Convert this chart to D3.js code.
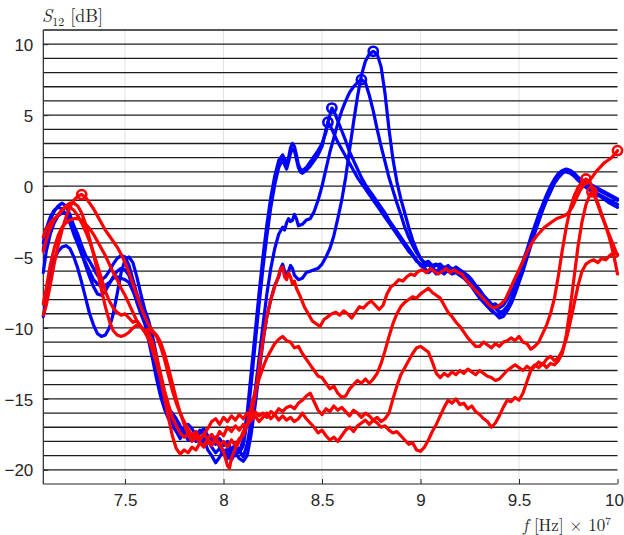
<!DOCTYPE html>
<html>
<head>
<meta charset="utf-8">
<script src="https://cdn.jsdelivr.net/npm/d3@7"></script>
<style>
  html, body { margin: 0; padding: 0; background: #fff; }
  svg { display: block; }
  .tick-label { font-family: "Liberation Sans", Arial, Helvetica, sans-serif; font-size: 17px; fill: #262626; }
  .latex { font-family: "Latin Modern Roman", "Liberation Serif", "DejaVu Serif", serif; fill: #262626; }
</style>
</head>
<body>
<svg id="chart" width="624" height="535"></svg>
<script>
// Frequency in units of 1e7 Hz, S12 in dB.
const xTicks = [7.5, 8, 8.5, 9, 9.5, 10];
const yTicks = [-20, -15, -10, -5, 0, 5, 10];

// Blue sweeps
const blue1 = [[7.085,-4.5],[7.10,-3.4],[7.12,-2.4],[7.14,-1.8],[7.16,-1.4],[7.18,-1.2],[7.20,-1.4],[7.22,-2.0],[7.24,-2.8],[7.26,-3.4],[7.28,-4.2],[7.30,-4.9],[7.32,-5.3],[7.34,-5.8],[7.36,-6.3],[7.38,-6.6],[7.40,-6.4],[7.42,-6.0],[7.44,-5.5],[7.46,-5.1],[7.48,-4.9],[7.50,-5.0],[7.52,-5.6],[7.54,-6.6],[7.56,-7.6],[7.58,-8.4],[7.60,-9.0],[7.62,-10.2],[7.64,-11.6],[7.66,-12.9],[7.68,-14.2],[7.70,-15.4],[7.72,-16.3],[7.74,-16.6],[7.76,-17.2],[7.78,-17.0],[7.80,-17.6],[7.82,-17.3],[7.84,-17.9],[7.86,-17.5],[7.88,-18.2],[7.90,-17.8],[7.92,-18.6],[7.94,-19.0],[7.96,-19.5],[7.98,-19.1],[8.00,-18.6],[8.02,-18.9],[8.04,-19.3],[8.06,-18.8],[8.08,-19.2],[8.10,-19.4],[8.12,-19.0],[8.14,-17.5],[8.16,-15.5],[8.18,-13.2],[8.20,-11.0],[8.22,-9.2],[8.24,-8.0],[8.26,-7.0],[8.28,-6.4],[8.29,-5.8],[8.30,-5.5],[8.31,-6.0],[8.32,-6.4],[8.33,-6.0],[8.34,-5.6],[8.35,-5.8],[8.36,-6.3],[8.38,-6.6],[8.40,-6.5],[8.42,-6.1],[8.44,-6.0],[8.46,-5.9],[8.48,-5.8],[8.50,-5.5],[8.52,-5.0],[8.54,-4.4],[8.56,-3.5],[8.58,-2.3],[8.60,-1.0],[8.62,0.6],[8.64,2.6],[8.66,4.5],[8.68,6.3],[8.70,7.8],[8.72,8.8],[8.74,9.3],[8.76,9.5],[8.78,9.3],[8.80,8.4],[8.82,6.5],[8.84,4.0],[8.86,1.9],[8.88,0.3],[8.90,-0.9],[8.92,-1.9],[8.94,-2.9],[8.96,-3.8],[8.98,-4.5],[9.00,-5.1],[9.02,-5.4],[9.04,-5.3],[9.06,-5.6],[9.08,-5.5],[9.10,-5.8],[9.12,-5.7],[9.14,-5.9],[9.16,-5.8],[9.18,-5.9],[9.20,-6.0],[9.22,-6.2],[9.24,-6.5],[9.26,-6.8],[9.28,-7.2],[9.30,-7.6],[9.32,-8.0],[9.34,-8.3],[9.36,-8.7],[9.38,-9.0],[9.40,-9.3],[9.42,-9.2],[9.44,-8.8],[9.46,-8.3],[9.48,-7.6],[9.50,-6.8],[9.52,-6.0],[9.54,-5.1],[9.56,-4.2],[9.58,-3.3],[9.60,-2.5],[9.62,-1.7],[9.64,-1.0],[9.66,-0.4],[9.68,0.2],[9.70,0.6],[9.72,0.9],[9.74,1.1],[9.76,1.1],[9.78,0.9],[9.80,0.6],[9.84,0.3],[9.88,0.0],[9.92,-0.3],[9.96,-0.6],[10.0,-0.9]];

const blue2 = [[7.085,-6.1],[7.10,-4.6],[7.12,-3.4],[7.14,-2.6],[7.16,-2.1],[7.18,-1.9],[7.20,-1.9],[7.22,-2.3],[7.24,-3.0],[7.26,-3.9],[7.28,-4.8],[7.30,-5.6],[7.32,-6.4],[7.34,-7.1],[7.36,-7.6],[7.38,-7.7],[7.40,-7.4],[7.42,-6.9],[7.44,-6.4],[7.46,-6.0],[7.48,-5.8],[7.50,-5.9],[7.52,-6.3],[7.54,-7.2],[7.56,-8.2],[7.58,-9.0],[7.60,-9.7],[7.62,-10.9],[7.64,-12.2],[7.66,-13.6],[7.68,-14.8],[7.70,-15.7],[7.72,-16.4],[7.74,-16.9],[7.76,-17.3],[7.78,-17.8],[7.80,-17.4],[7.82,-17.9],[7.84,-17.5],[7.86,-18.0],[7.88,-17.4],[7.90,-17.1],[7.92,-17.6],[7.94,-18.1],[7.96,-17.7],[7.98,-18.4],[8.00,-18.9],[8.02,-19.2],[8.04,-18.7],[8.06,-19.0],[8.08,-18.6],[8.10,-19.1],[8.12,-18.2],[8.14,-16.6],[8.16,-14.5],[8.18,-12.2],[8.20,-9.8],[8.22,-7.6],[8.24,-5.8],[8.26,-4.4],[8.28,-3.4],[8.30,-2.9],[8.31,-3.1],[8.32,-2.6],[8.33,-2.3],[8.34,-2.5],[8.35,-2.4],[8.36,-2.0],[8.37,-2.3],[8.38,-2.8],[8.40,-2.7],[8.42,-2.4],[8.44,-2.3],[8.46,-1.8],[8.48,-1.0],[8.50,0.0],[8.52,1.2],[8.54,2.4],[8.56,3.4],[8.58,4.4],[8.60,5.3],[8.62,6.0],[8.64,6.6],[8.66,7.0],[8.68,7.3],[8.70,7.5],[8.72,7.3],[8.74,6.4],[8.76,5.3],[8.78,4.0],[8.80,2.8],[8.82,1.7],[8.84,0.6],[8.86,-0.3],[8.88,-1.2],[8.90,-2.0],[8.92,-2.9],[8.94,-3.6],[8.96,-4.2],[8.98,-4.7],[9.00,-5.1],[9.02,-5.5],[9.04,-5.4],[9.06,-5.7],[9.08,-5.6],[9.10,-5.5],[9.12,-5.8],[9.14,-5.6],[9.16,-5.9],[9.18,-5.7],[9.20,-5.9],[9.22,-6.1],[9.24,-6.3],[9.26,-6.6],[9.28,-7.0],[9.30,-7.3],[9.32,-7.7],[9.34,-8.0],[9.36,-8.3],[9.38,-8.6],[9.40,-8.9],[9.42,-8.8],[9.44,-8.5],[9.46,-8.0],[9.48,-7.3],[9.50,-6.5],[9.52,-5.7],[9.54,-4.8],[9.56,-3.9],[9.58,-3.1],[9.60,-2.3],[9.62,-1.5],[9.64,-0.8],[9.66,-0.2],[9.68,0.4],[9.70,0.8],[9.72,1.0],[9.74,1.1],[9.76,1.0],[9.78,0.8],[9.80,0.5],[9.84,0.0],[9.88,-0.4],[9.92,-0.7],[9.96,-1.0],[10.0,-1.3]];

const blue3 = [[7.085,-9.2],[7.10,-8.0],[7.12,-6.4],[7.14,-5.2],[7.16,-4.6],[7.18,-4.3],[7.20,-4.2],[7.22,-4.4],[7.24,-5.0],[7.26,-5.8],[7.28,-6.8],[7.30,-7.9],[7.32,-9.0],[7.34,-9.8],[7.36,-10.4],[7.38,-10.6],[7.40,-10.5],[7.42,-10.0],[7.44,-9.0],[7.46,-7.6],[7.48,-6.1],[7.50,-5.2],[7.52,-5.0],[7.54,-5.4],[7.56,-6.4],[7.58,-7.6],[7.60,-8.7],[7.62,-9.5],[7.64,-10.6],[7.66,-12.0],[7.68,-13.5],[7.70,-14.9],[7.72,-15.7],[7.74,-16.0],[7.76,-16.4],[7.78,-16.9],[7.80,-17.3],[7.82,-16.8],[7.84,-17.1],[7.86,-17.6],[7.88,-17.2],[7.90,-17.5],[7.92,-18.0],[7.94,-17.6],[7.96,-18.2],[7.98,-17.8],[8.00,-18.3],[8.02,-18.0],[8.04,-18.6],[8.06,-18.2],[8.08,-18.7],[8.10,-17.9],[8.12,-16.0],[8.14,-13.2],[8.16,-10.4],[8.18,-7.6],[8.20,-5.0],[8.22,-2.7],[8.24,-0.8],[8.26,0.7],[8.28,1.8],[8.30,2.2],[8.31,1.9],[8.32,1.5],[8.33,2.0],[8.34,2.7],[8.35,3.0],[8.36,2.8],[8.37,2.2],[8.38,1.5],[8.39,1.2],[8.40,1.1],[8.42,1.3],[8.44,1.7],[8.46,2.1],[8.48,2.5],[8.50,3.0],[8.52,3.8],[8.53,4.5],[8.54,5.0],[8.55,5.5],[8.56,5.3],[8.58,4.6],[8.60,3.9],[8.62,3.2],[8.64,2.4],[8.66,1.8],[8.68,1.2],[8.70,0.6],[8.72,0.1],[8.74,-0.3],[8.76,-0.7],[8.78,-1.1],[8.80,-1.5],[8.82,-1.9],[8.84,-2.4],[8.86,-2.8],[8.88,-3.2],[8.90,-3.6],[8.92,-4.0],[8.94,-4.4],[8.96,-4.8],[8.98,-5.2],[9.00,-5.6],[9.02,-5.8],[9.04,-6.1],[9.06,-5.9],[9.08,-6.2],[9.10,-6.0],[9.12,-6.2],[9.14,-5.9],[9.16,-6.1],[9.18,-6.0],[9.20,-6.2],[9.22,-6.4],[9.24,-6.7],[9.26,-7.0],[9.28,-7.4],[9.30,-7.7],[9.32,-8.0],[9.34,-8.2],[9.36,-8.4],[9.38,-8.3],[9.40,-8.6],[9.42,-8.4],[9.44,-8.0],[9.46,-7.5],[9.48,-6.9],[9.50,-6.1],[9.52,-5.3],[9.54,-4.5],[9.56,-3.6],[9.58,-2.8],[9.60,-2.0],[9.62,-1.3],[9.64,-0.6],[9.66,0.0],[9.68,0.5],[9.70,0.9],[9.72,1.1],[9.74,1.2],[9.76,1.1],[9.78,0.9],[9.80,0.6],[9.84,0.2],[9.88,-0.1],[9.92,-0.4],[9.96,-0.7],[10.0,-1.0]];

const blue4 = [[7.085,-4.0],[7.10,-3.0],[7.12,-2.2],[7.14,-1.7],[7.16,-1.5],[7.18,-1.6],[7.20,-2.0],[7.22,-2.6],[7.24,-3.4],[7.26,-4.1],[7.28,-4.8],[7.30,-5.4],[7.32,-6.0],[7.34,-6.6],[7.36,-6.9],[7.38,-7.1],[7.40,-7.0],[7.42,-6.8],[7.44,-6.5],[7.46,-6.4],[7.48,-6.5],[7.50,-6.6],[7.52,-6.8],[7.54,-7.4],[7.56,-8.1],[7.58,-8.8],[7.60,-9.4],[7.62,-10.5],[7.64,-11.9],[7.66,-13.3],[7.68,-14.6],[7.70,-15.5],[7.72,-16.1],[7.74,-16.5],[7.76,-16.8],[7.78,-17.4],[7.80,-17.0],[7.82,-17.5],[7.84,-17.9],[7.86,-17.4],[7.88,-17.8],[7.90,-18.3],[7.92,-17.9],[7.94,-18.4],[7.96,-18.8],[7.98,-18.5],[8.00,-18.9],[8.02,-18.5],[8.04,-18.9],[8.06,-18.4],[8.08,-18.8],[8.10,-18.3],[8.12,-16.6],[8.14,-14.0],[8.16,-11.2],[8.18,-8.4],[8.20,-5.8],[8.22,-3.5],[8.24,-1.5],[8.26,0.1],[8.28,1.3],[8.30,1.9],[8.31,1.5],[8.32,1.2],[8.33,1.7],[8.34,2.3],[8.35,2.6],[8.36,2.5],[8.37,1.9],[8.38,1.3],[8.39,1.0],[8.40,0.9],[8.42,1.1],[8.44,1.4],[8.46,1.8],[8.48,2.2],[8.50,2.8],[8.51,3.4],[8.52,4.0],[8.53,4.5],[8.54,4.3],[8.56,3.7],[8.58,3.1],[8.60,2.6],[8.62,2.1],[8.64,1.6],[8.66,1.1],[8.68,0.6],[8.70,0.2],[8.72,-0.2],[8.74,-0.6],[8.76,-1.0],[8.78,-1.4],[8.80,-1.8],[8.82,-2.2],[8.84,-2.6],[8.86,-3.0],[8.88,-3.4],[8.90,-3.8],[8.92,-4.2],[8.94,-4.6],[8.96,-4.9],[8.98,-5.3],[9.00,-5.5],[9.02,-5.7],[9.04,-5.5],[9.06,-5.8],[9.08,-6.0],[9.10,-5.8],[9.12,-6.1],[9.14,-6.0],[9.16,-6.2],[9.18,-6.1],[9.20,-6.3],[9.22,-6.5],[9.24,-6.8],[9.26,-7.1],[9.28,-7.5],[9.30,-7.9],[9.32,-8.2],[9.34,-8.5],[9.36,-8.8],[9.38,-9.0],[9.40,-9.1],[9.42,-8.9],[9.44,-8.6],[9.46,-8.1],[9.48,-7.4],[9.50,-6.6],[9.52,-5.8],[9.54,-4.9],[9.56,-4.0],[9.58,-3.2],[9.60,-2.4],[9.62,-1.6],[9.64,-0.9],[9.66,-0.3],[9.68,0.3],[9.70,0.7],[9.72,1.0],[9.74,1.0],[9.76,0.9],[9.78,0.7],[9.80,0.4],[9.84,-0.1],[9.88,-0.5],[9.92,-0.8],[9.96,-1.2],[10.0,-1.5]];

// Red sweeps
const red1 = [[7.085,-4.6],[7.10,-3.8],[7.12,-3.0],[7.14,-2.4],[7.16,-2.0],[7.18,-1.7],[7.20,-1.5],[7.22,-1.5],[7.24,-1.7],[7.26,-2.1],[7.28,-2.6],[7.30,-3.2],[7.32,-3.9],[7.34,-4.7],[7.36,-5.6],[7.38,-6.5],[7.40,-7.4],[7.42,-8.1],[7.44,-8.6],[7.46,-8.9],[7.48,-9.1],[7.50,-9.0],[7.52,-9.3],[7.54,-9.6],[7.56,-9.5],[7.58,-9.9],[7.60,-10.3],[7.62,-10.8],[7.64,-11.6],[7.66,-12.5],[7.68,-13.6],[7.70,-14.9],[7.72,-16.3],[7.74,-17.6],[7.76,-18.5],[7.78,-18.9],[7.80,-18.6],[7.82,-18.8],[7.84,-18.4],[7.86,-18.6],[7.88,-18.1],[7.90,-18.3],[7.92,-17.8],[7.94,-17.5],[7.96,-17.9],[7.98,-17.3],[8.00,-17.6],[8.02,-17.0],[8.04,-17.3],[8.06,-16.9],[8.08,-17.2],[8.10,-16.8],[8.12,-16.9],[8.14,-16.2],[8.16,-14.8],[8.18,-12.9],[8.20,-10.9],[8.22,-9.2],[8.24,-8.0],[8.26,-7.1],[8.28,-6.3],[8.29,-5.8],[8.30,-5.7],[8.31,-6.4],[8.32,-6.6],[8.33,-6.1],[8.34,-6.4],[8.35,-6.9],[8.36,-6.7],[8.37,-7.2],[8.39,-7.8],[8.41,-8.5],[8.43,-9.0],[8.45,-9.5],[8.47,-9.7],[8.49,-9.9],[8.51,-9.4],[8.53,-9.2],[8.55,-9.0],[8.57,-8.9],[8.59,-9.1],[8.61,-8.8],[8.63,-9.0],[8.65,-9.3],[8.67,-8.9],[8.69,-8.5],[8.71,-8.6],[8.73,-8.3],[8.75,-8.1],[8.77,-8.4],[8.79,-8.7],[8.81,-8.4],[8.83,-7.6],[8.85,-7.1],[8.87,-6.9],[8.89,-6.6],[8.91,-6.7],[8.93,-6.4],[8.95,-6.2],[8.97,-6.3],[8.99,-6.0],[9.01,-5.9],[9.03,-6.1],[9.05,-5.8],[9.07,-6.0],[9.09,-6.2],[9.11,-6.0],[9.13,-5.8],[9.15,-6.1],[9.17,-5.9],[9.19,-6.1],[9.21,-6.2],[9.23,-6.6],[9.25,-6.9],[9.27,-7.2],[9.29,-7.5],[9.31,-7.8],[9.33,-8.1],[9.35,-8.4],[9.37,-8.6],[9.39,-8.5],[9.41,-8.3],[9.43,-8.0],[9.45,-7.4],[9.47,-6.8],[9.49,-6.2],[9.51,-5.6],[9.53,-5.0],[9.55,-4.4],[9.57,-3.9],[9.59,-3.5],[9.61,-3.2],[9.63,-2.9],[9.65,-2.7],[9.67,-2.5],[9.69,-2.3],[9.71,-2.2],[9.73,-2.1],[9.75,-1.9],[9.77,-1.5],[9.79,-0.9],[9.81,-0.3],[9.83,0.1],[9.85,0.3],[9.87,0.6],[9.89,1.0],[9.91,1.3],[9.93,1.6],[9.95,1.8],[9.97,2.0],[9.99,2.3],[10.0,2.5]];

const red2 = [[7.085,-3.6],[7.10,-3.0],[7.12,-2.6],[7.14,-2.3],[7.16,-2.1],[7.18,-1.7],[7.20,-1.4],[7.22,-1.2],[7.24,-1.2],[7.26,-1.4],[7.28,-1.9],[7.30,-2.7],[7.32,-3.7],[7.34,-4.8],[7.36,-6.0],[7.38,-7.3],[7.40,-8.5],[7.42,-9.5],[7.44,-10.2],[7.46,-10.5],[7.48,-10.6],[7.50,-10.5],[7.52,-10.3],[7.54,-10.0],[7.56,-9.8],[7.58,-9.9],[7.60,-10.2],[7.62,-10.4],[7.64,-11.0],[7.66,-12.0],[7.68,-13.2],[7.70,-14.4],[7.72,-15.4],[7.74,-16.3],[7.76,-16.9],[7.78,-17.4],[7.80,-17.7],[7.82,-17.5],[7.84,-17.9],[7.86,-17.6],[7.88,-17.9],[7.90,-17.5],[7.92,-17.8],[7.94,-18.2],[7.96,-17.9],[7.98,-18.3],[8.00,-18.0],[8.02,-18.4],[8.04,-17.9],[8.06,-18.3],[8.08,-17.8],[8.10,-17.6],[8.12,-16.8],[8.14,-15.6],[8.16,-14.5],[8.18,-13.6],[8.20,-12.8],[8.22,-12.1],[8.24,-11.6],[8.26,-11.1],[8.28,-10.8],[8.30,-10.6],[8.32,-10.9],[8.34,-11.0],[8.36,-11.4],[8.38,-11.3],[8.40,-11.8],[8.42,-12.2],[8.44,-12.6],[8.46,-13.0],[8.48,-13.4],[8.50,-13.5],[8.52,-13.9],[8.54,-14.3],[8.56,-14.1],[8.58,-14.6],[8.60,-14.9],[8.62,-14.8],[8.64,-14.3],[8.66,-14.0],[8.68,-13.7],[8.70,-13.9],[8.72,-13.6],[8.74,-13.9],[8.76,-13.6],[8.78,-13.2],[8.80,-12.5],[8.82,-11.6],[8.84,-10.6],[8.86,-9.7],[8.88,-9.0],[8.90,-8.5],[8.92,-8.2],[8.94,-8.0],[8.96,-7.8],[8.98,-7.9],[9.00,-7.6],[9.02,-7.4],[9.04,-7.2],[9.06,-7.5],[9.08,-7.7],[9.10,-7.9],[9.12,-8.4],[9.14,-8.9],[9.16,-9.2],[9.18,-9.6],[9.20,-9.9],[9.22,-10.3],[9.24,-10.7],[9.26,-11.0],[9.28,-11.3],[9.30,-11.3],[9.32,-11.0],[9.34,-11.2],[9.36,-11.4],[9.38,-11.1],[9.40,-11.3],[9.42,-11.0],[9.44,-10.9],[9.46,-10.7],[9.48,-10.9],[9.50,-10.6],[9.52,-11.0],[9.54,-11.1],[9.56,-11.5],[9.58,-11.3],[9.60,-11.0],[9.62,-10.4],[9.64,-9.8],[9.66,-9.0],[9.68,-7.9],[9.70,-6.3],[9.72,-4.5],[9.74,-2.9],[9.76,-1.6],[9.78,-0.7],[9.80,-0.1],[9.82,0.3],[9.84,0.5],[9.86,0.3],[9.88,-0.4],[9.90,-1.2],[9.92,-2.0],[9.94,-2.8],[9.96,-3.7],[9.98,-4.8],[10.0,-6.2]];

const red3 = [[7.085,-8.3],[7.10,-7.2],[7.12,-5.6],[7.14,-4.4],[7.16,-3.5],[7.18,-2.9],[7.20,-2.6],[7.22,-2.4],[7.24,-2.3],[7.26,-2.3],[7.28,-2.4],[7.30,-2.7],[7.32,-3.0],[7.34,-3.4],[7.36,-3.9],[7.38,-4.4],[7.40,-4.9],[7.42,-5.5],[7.44,-6.1],[7.46,-6.6],[7.48,-7.2],[7.50,-7.7],[7.52,-8.3],[7.54,-8.9],[7.56,-9.5],[7.58,-9.9],[7.60,-10.2],[7.62,-10.1],[7.64,-10.3],[7.66,-10.6],[7.68,-11.3],[7.70,-12.2],[7.72,-13.3],[7.74,-14.4],[7.76,-15.3],[7.78,-16.0],[7.80,-16.6],[7.82,-17.1],[7.84,-17.6],[7.86,-17.3],[7.88,-17.8],[7.90,-17.5],[7.92,-17.1],[7.94,-16.6],[7.96,-16.4],[7.98,-16.8],[8.00,-16.3],[8.02,-16.6],[8.04,-16.2],[8.06,-16.5],[8.08,-16.1],[8.10,-16.4],[8.12,-16.0],[8.14,-16.3],[8.16,-15.9],[8.18,-16.2],[8.20,-16.0],[8.22,-16.3],[8.24,-15.9],[8.26,-16.1],[8.28,-15.7],[8.30,-15.9],[8.32,-15.6],[8.34,-15.5],[8.36,-15.7],[8.38,-15.3],[8.40,-15.1],[8.42,-14.8],[8.44,-14.6],[8.46,-15.2],[8.48,-15.8],[8.50,-16.1],[8.52,-15.7],[8.54,-15.9],[8.56,-15.5],[8.58,-15.8],[8.60,-15.6],[8.62,-15.9],[8.64,-16.2],[8.66,-15.8],[8.68,-16.0],[8.70,-16.3],[8.72,-16.0],[8.74,-16.2],[8.76,-16.5],[8.78,-16.3],[8.80,-16.6],[8.82,-16.4],[8.84,-16.0],[8.86,-15.0],[8.88,-14.1],[8.90,-13.3],[8.92,-12.8],[8.94,-12.3],[8.96,-11.8],[8.98,-11.4],[9.00,-11.3],[9.02,-11.5],[9.04,-11.7],[9.06,-12.4],[9.08,-13.2],[9.10,-13.5],[9.12,-13.2],[9.14,-13.4],[9.16,-13.1],[9.18,-13.3],[9.20,-13.0],[9.22,-13.2],[9.24,-12.9],[9.26,-13.1],[9.28,-13.3],[9.30,-13.0],[9.32,-13.2],[9.34,-13.4],[9.36,-13.5],[9.38,-13.7],[9.40,-13.6],[9.42,-13.3],[9.44,-13.0],[9.46,-12.8],[9.48,-12.6],[9.50,-12.8],[9.52,-13.0],[9.54,-12.7],[9.56,-12.9],[9.58,-12.6],[9.60,-12.8],[9.62,-12.5],[9.64,-12.8],[9.66,-12.5],[9.68,-12.6],[9.70,-12.3],[9.72,-11.8],[9.74,-10.5],[9.76,-8.6],[9.78,-6.4],[9.80,-4.2],[9.82,-2.5],[9.84,-1.3],[9.86,-0.6],[9.87,-0.4],[9.88,-0.6],[9.90,-1.3],[9.92,-2.1],[9.94,-2.8],[9.96,-3.5],[9.98,-4.2],[10.0,-4.9]];

const red4 = [[7.085,-9.1],[7.10,-8.4],[7.12,-7.0],[7.14,-5.5],[7.16,-4.2],[7.18,-3.1],[7.20,-2.2],[7.22,-1.5],[7.24,-1.0],[7.26,-0.7],[7.28,-0.6],[7.30,-0.8],[7.32,-1.2],[7.34,-1.6],[7.36,-2.1],[7.38,-2.6],[7.40,-3.1],[7.42,-3.5],[7.44,-3.9],[7.46,-4.3],[7.48,-4.8],[7.50,-5.4],[7.52,-6.1],[7.54,-6.9],[7.56,-7.7],[7.58,-8.5],[7.60,-9.2],[7.62,-9.8],[7.64,-10.2],[7.66,-10.5],[7.68,-11.0],[7.70,-11.8],[7.72,-12.8],[7.74,-13.9],[7.76,-15.0],[7.78,-16.0],[7.80,-16.8],[7.82,-17.5],[7.84,-18.0],[7.86,-17.7],[7.88,-18.1],[7.90,-18.4],[7.92,-18.0],[7.94,-18.3],[7.96,-17.8],[7.98,-18.2],[8.00,-18.7],[8.02,-19.7],[8.03,-19.9],[8.04,-19.2],[8.06,-18.5],[8.08,-18.0],[8.10,-17.3],[8.12,-16.8],[8.14,-16.5],[8.16,-16.2],[8.18,-16.6],[8.20,-16.3],[8.22,-16.0],[8.24,-16.4],[8.26,-16.1],[8.28,-16.5],[8.30,-16.2],[8.32,-16.5],[8.34,-16.3],[8.36,-16.6],[8.38,-16.4],[8.40,-16.0],[8.42,-16.4],[8.44,-16.7],[8.46,-17.0],[8.48,-17.4],[8.50,-17.2],[8.52,-17.6],[8.54,-17.9],[8.56,-17.7],[8.58,-18.0],[8.60,-17.6],[8.62,-17.2],[8.64,-17.0],[8.66,-17.3],[8.68,-16.9],[8.70,-16.7],[8.72,-16.5],[8.74,-16.8],[8.76,-16.5],[8.78,-16.7],[8.80,-17.0],[8.82,-16.9],[8.84,-17.2],[8.86,-17.4],[8.88,-17.3],[8.90,-17.6],[8.92,-17.9],[8.94,-18.2],[8.96,-18.1],[8.98,-18.6],[9.00,-18.7],[9.02,-18.4],[9.04,-17.9],[9.06,-17.3],[9.08,-16.8],[9.10,-16.2],[9.12,-15.6],[9.14,-15.1],[9.16,-15.3],[9.18,-15.0],[9.20,-15.4],[9.22,-15.3],[9.24,-15.7],[9.26,-15.5],[9.28,-15.9],[9.30,-16.1],[9.32,-16.4],[9.34,-16.6],[9.36,-17.0],[9.38,-16.7],[9.40,-16.2],[9.42,-15.6],[9.44,-15.1],[9.46,-15.2],[9.48,-14.9],[9.50,-15.1],[9.52,-14.6],[9.54,-13.8],[9.56,-13.0],[9.58,-12.7],[9.60,-12.4],[9.62,-12.6],[9.64,-12.2],[9.66,-12.0],[9.68,-12.3],[9.70,-12.1],[9.72,-11.6],[9.74,-10.8],[9.76,-9.6],[9.78,-8.3],[9.80,-7.0],[9.82,-6.0],[9.84,-5.5],[9.86,-5.3],[9.88,-5.2],[9.90,-5.4],[9.92,-5.1],[9.94,-5.2],[9.96,-4.9],[9.98,-4.7],[10.0,-4.8]];

const blueSeries = [blue1, blue2, blue3, blue4];
const redSeries = [red1, red2, red3, red4];

const svg = d3.select("#chart");
const margin = { left: 43.3, right: 6.5, top: 30, bottom: 51 };
const W = 624, H = 535;
const x = d3.scaleLinear().domain([7.085, 10]).range([margin.left, W - margin.right]);
const y = d3.scaleLinear().domain([-21, 11]).range([H - margin.bottom, margin.top]);

// Light vertical grid at labelled frequencies
svg.append("g").selectAll("line")
  .data(xTicks.filter(t => t < 10))
  .join("line")
  .attr("x1", d => x(d)).attr("x2", d => x(d))
  .attr("y1", y(11)).attr("y2", y(-21))
  .attr("stroke", "#e3e3e3").attr("stroke-width", 1);

// Dark horizontal grid every 1 dB
svg.append("g").selectAll("line")
  .data(d3.range(-20, 12))
  .join("line")
  .attr("x1", x(7.085)).attr("x2", x(10))
  .attr("y1", d => y(d)).attr("y2", d => y(d))
  .attr("stroke", "#1e1e1e").attr("stroke-width", 1.3);

// Axes
const yAxis = d3.axisLeft(y).tickValues(yTicks).tickSize(-5).tickPadding(10).tickFormat(d3.format("d"));
const gy = svg.append("g").attr("transform", `translate(${margin.left},0)`).call(yAxis);
gy.select(".domain").attr("stroke", "#262626").attr("d", `M0,${y(11)}V${y(-21)}`);
gy.selectAll(".tick line").attr("stroke", "#262626");
gy.selectAll(".tick text").attr("class", "tick-label").attr("dy", "0.36em");

const xAxis = d3.axisBottom(x).tickValues(xTicks).tickSize(-5).tickPadding(10).tickFormat(d => d3.format("")(d));
const gx = svg.append("g").attr("transform", `translate(0,${y(-21)})`).call(xAxis);
gx.select(".domain").attr("stroke", "#262626").attr("d", `M${x(7.085)},0H${x(10)}`);
gx.selectAll(".tick line").attr("stroke", "#262626");
gx.selectAll(".tick text").attr("class", "tick-label").attr("dy", "0.71em");
// keep the last label inside the page edge
gx.selectAll(".tick text").filter(d => d === 10).attr("text-anchor", "end").attr("dx", 6);

svg.selectAll(".domain").attr("stroke-width", 1.2);

// Sweeps
const line = d3.line().x(d => x(d[0])).y(d => y(d[1]));
const plot = svg.append("g");

function drawSeries(series, color) {
  plot.append("g").selectAll("path")
    .data(series)
    .join("path")
    .attr("d", line)
    .attr("fill", "none")
    .attr("stroke", color)
    .attr("stroke-width", 3.2)
    .attr("stroke-linejoin", "round")
    .attr("stroke-linecap", "round");
  // ring at each sweep maximum
  plot.append("g").selectAll("circle")
    .data(series.map(s => d3.greatest(s, d => d[1])))
    .join("circle")
    .attr("cx", d => x(d[0])).attr("cy", d => y(d[1]))
    .attr("r", 4.6)
    .attr("fill", "none")
    .attr("stroke", color)
    .attr("stroke-width", 2.6);
}
drawSeries(blueSeries, "#0000ff");
drawSeries(redSeries, "#ff0000");

// Axis titles
const yl = svg.append("text").attr("class", "latex").attr("x", 42).attr("y", 22).attr("font-size", 18);
yl.append("tspan").attr("font-style", "italic").text("S");
yl.append("tspan").attr("font-size", 12).attr("dy", 4).text("12");
yl.append("tspan").attr("dy", -4).text(" [dB]");

const xl = svg.append("text").attr("class", "latex").attr("x", 523).attr("y", 531).attr("font-size", 17);
xl.append("tspan").attr("font-style", "italic").text("f");
xl.append("tspan").text("  [Hz] × 10");
xl.append("tspan").attr("font-size", 11).attr("dy", -6).text("7");
</script>
</body>
</html>
